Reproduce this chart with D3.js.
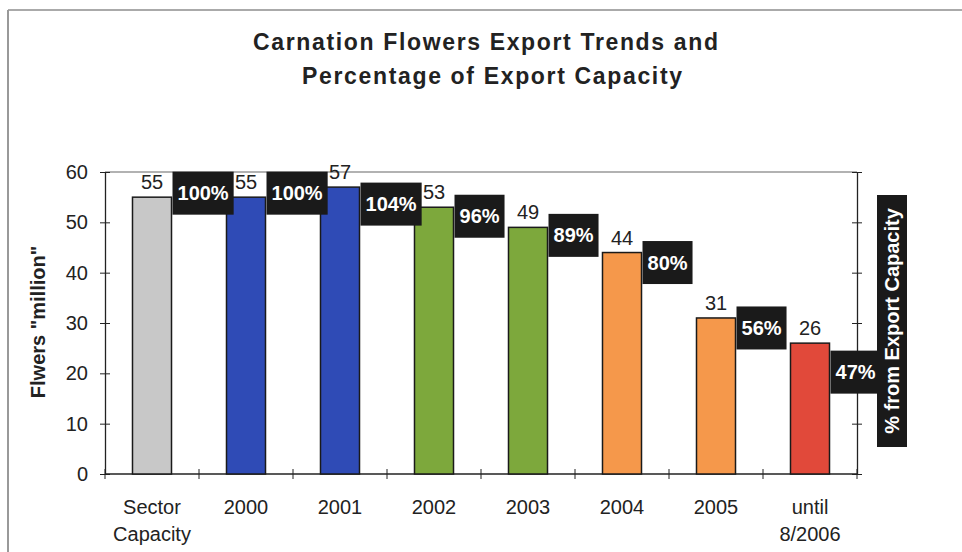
<!DOCTYPE html>
<html>
<head>
<meta charset="utf-8">
<script src="https://cdn.jsdelivr.net/npm/d3@7"></script>
<style>
  body { margin: 0; background: #fff; }
  text { font-family: Arial, "Liberation Sans", sans-serif; }
</style>
</head>
<body>
<div id="chart"></div>
<script>
// Data
var categories = ["Sector\nCapacity", "2000", "2001", "2002", "2003", "2004", "2005", "until\n8/2006"];
var flowers = [55, 55, 57, 53, 49, 44, 31, 26];
var percents = ["100%", "100%", "104%", "96%", "89%", "80%", "56%", "47%"];
var yTicks = [0, 10, 20, 30, 40, 50, 60];

// Layout / style
var W = 962, H = 552;
var PLOT = { left: 105, right: 857, top: 172, bottom: 474 };
var COLORS = ["#c8c8c8", "#2f4bb6", "#2f4bb6", "#7da83c", "#7da83c", "#f5984b", "#f5984b", "#e1493a"];
var PCT_NUDGE = [-4, -4, 17, 9, 8, 10, 10, 29]; // manual label placement, px below bar top
var BOX_H = 43;

var svg = d3.select("#chart").append("svg")
  .attr("width", W)
  .attr("height", H);

// outer frame
svg.append("line").attr("x1", 8).attr("x2", W).attr("y1", 10).attr("y2", 10)
  .attr("stroke", "#aaa").attr("stroke-width", 2);
svg.append("line").attr("x1", 8).attr("x2", 8).attr("y1", 10).attr("y2", H)
  .attr("stroke", "#999").attr("stroke-width", 2);

// title
var title = svg.append("g").attr("font-weight", "bold").attr("font-size", 23).attr("fill", "#222");
title.append("text").attr("x", 253).attr("y", 50)
  .attr("textLength", 465).attr("lengthAdjust", "spacing")
  .text("Carnation Flowers Export Trends and");
title.append("text").attr("x", 302).attr("y", 84)
  .attr("textLength", 380).attr("lengthAdjust", "spacing")
  .text("Percentage of Export Capacity");

// scales
var x = d3.scaleBand()
  .domain(categories)
  .range([PLOT.left, PLOT.right])
  .paddingInner(0.585)
  .paddingOuter(0.2925);
var y = d3.scaleLinear().domain([0, 60]).range([PLOT.bottom, PLOT.top]);

// plot top border
svg.append("line").attr("x1", PLOT.left).attr("x2", PLOT.right)
  .attr("y1", PLOT.top).attr("y2", PLOT.top)
  .attr("stroke", "#999").attr("stroke-width", 1.5);

// left axis
var yAxis = svg.append("g")
  .attr("transform", "translate(" + PLOT.left + ",0)")
  .call(d3.axisLeft(y).tickValues(yTicks).tickSizeInner(5).tickSizeOuter(0).tickPadding(12));
yAxis.select(".domain").attr("stroke", "#222").attr("stroke-width", 1.3);
yAxis.selectAll(".tick line").attr("x1", 5).attr("x2", -5).attr("stroke", "#222");
yAxis.selectAll(".tick text").attr("font-size", 20).attr("fill", "#222")
  .attr("font-family", "Arial, 'Liberation Sans', sans-serif");

// right axis (no labels)
var yAxisR = svg.append("g")
  .attr("transform", "translate(" + PLOT.right + ",0)")
  .call(d3.axisRight(y).tickValues(yTicks).tickFormat("").tickSizeOuter(0));
yAxisR.select(".domain").attr("stroke", "#222").attr("stroke-width", 1.3);
yAxisR.selectAll(".tick line").attr("x1", -5).attr("x2", 5).attr("stroke", "#222");

// x axis line and boundary ticks
svg.append("line").attr("x1", PLOT.left).attr("x2", PLOT.right)
  .attr("y1", PLOT.bottom).attr("y2", PLOT.bottom)
  .attr("stroke", "#222").attr("stroke-width", 1.3);
svg.selectAll(".xtick")
  .data(d3.range(categories.length + 1))
  .enter().append("line")
  .attr("class", "xtick")
  .attr("x1", function(i) { return PLOT.left + i * x.step(); })
  .attr("x2", function(i) { return PLOT.left + i * x.step(); })
  .attr("y1", PLOT.bottom - 5).attr("y2", PLOT.bottom + 5)
  .attr("stroke", "#222");

// category labels
var catLabels = svg.selectAll(".cat")
  .data(categories)
  .enter().append("text")
  .attr("class", "cat")
  .attr("text-anchor", "middle")
  .attr("font-size", 20)
  .attr("fill", "#222");
catLabels.each(function(d) {
  var cx = x(d) + x.bandwidth() / 2;
  var t = d3.select(this);
  d.split("\n").forEach(function(line, j) {
    t.append("tspan").attr("x", cx).attr("y", 514 + j * 27).text(line);
  });
});

// bars
svg.selectAll(".bar")
  .data(flowers)
  .enter().append("rect")
  .attr("class", "bar")
  .attr("x", function(d, i) { return x(categories[i]); })
  .attr("y", function(d) { return y(d); })
  .attr("width", x.bandwidth())
  .attr("height", function(d) { return y(0) - y(d); })
  .attr("fill", function(d, i) { return COLORS[i]; })
  .attr("stroke", "#1a1a1a")
  .attr("stroke-width", 1.5);

// value labels
svg.selectAll(".val")
  .data(flowers)
  .enter().append("text")
  .attr("class", "val")
  .attr("x", function(d, i) { return x(categories[i]) + x.bandwidth() / 2; })
  .attr("y", function(d) { return y(d) - 8; })
  .attr("text-anchor", "middle")
  .attr("font-size", 20)
  .attr("fill", "#222")
  .text(function(d) { return d; });

// percentage boxes
var pct = svg.selectAll(".pct")
  .data(percents)
  .enter().append("g")
  .attr("class", "pct")
  .attr("transform", function(d, i) {
    return "translate(" + (x(categories[i]) + x.bandwidth() + 1) + "," +
      (y(flowers[i]) + PCT_NUDGE[i]) + ")";
  });
pct.append("rect").attr("fill", "#1a1a1a");
pct.append("text")
  .attr("x", 5)
  .attr("y", 7)
  .attr("font-size", 20)
  .attr("font-weight", "bold")
  .attr("fill", "#fff")
  .text(function(d) { return d; });
pct.each(function() {
  var g = d3.select(this);
  var w = g.select("text").node().getComputedTextLength() + 10;
  g.select("rect").attr("x", 0).attr("y", -BOX_H / 2).attr("width", w).attr("height", BOX_H);
});

// y axis title
svg.append("text")
  .attr("transform", "translate(45,322) rotate(-90)")
  .attr("text-anchor", "middle")
  .attr("font-size", 20)
  .attr("font-weight", "bold")
  .attr("fill", "#222")
  .text('Flwers "million"');

// right axis title on black box
var rt = svg.append("g").attr("transform", "translate(892,321) rotate(-90)");
rt.append("rect").attr("x", -126).attr("y", -15).attr("width", 252).attr("height", 30).attr("fill", "#1a1a1a");
rt.append("text")
  .attr("text-anchor", "middle")
  .attr("y", 7)
  .attr("font-size", 20)
  .attr("font-weight", "bold")
  .attr("fill", "#fff")
  .text("% from Export Capacity");
</script>
</body>
</html>
